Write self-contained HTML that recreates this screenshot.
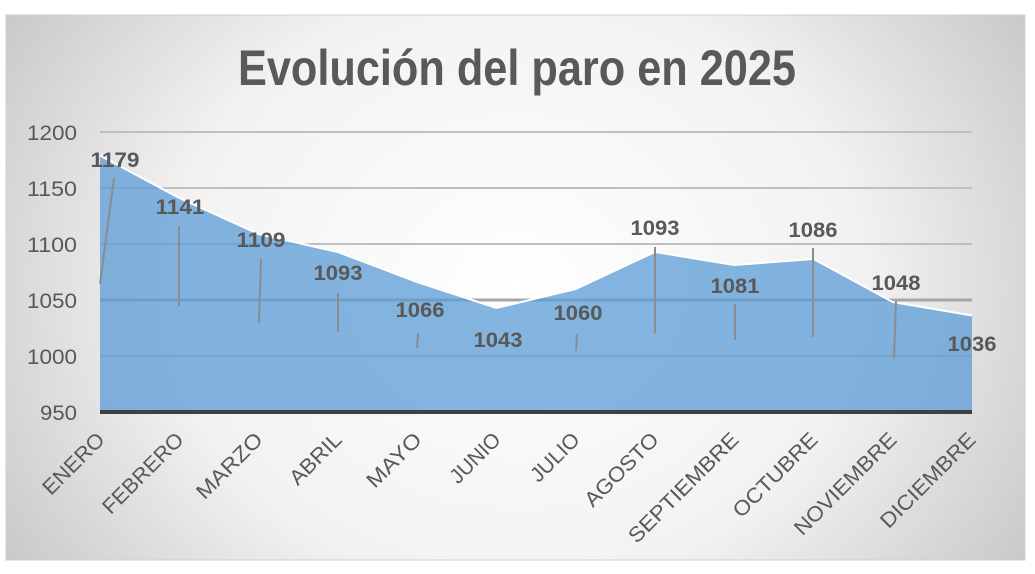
<!DOCTYPE html>
<html><head><meta charset="utf-8"><style>
html,body{margin:0;padding:0;background:#fff;width:1035px;height:574px;overflow:hidden}
svg{display:block}
</style></head><body>
<svg width="1035" height="574" viewBox="0 0 1035 574" xmlns="http://www.w3.org/2000/svg" font-family="'Liberation Sans', sans-serif">
<defs>
<radialGradient id="bg" cx="0.5" cy="0.5" r="0.62" gradientTransform="translate(0.5 0.5) scale(1 1.6) translate(-0.5 -0.5)">
<stop offset="0" stop-color="#ffffff"/>
<stop offset="0.55" stop-color="#f2f2f2"/>
<stop offset="1" stop-color="#c4c4c4"/>
</radialGradient>
</defs>
<rect x="0" y="0" width="1035" height="574" fill="#fff"/>
<rect x="6" y="15" width="1019" height="545" fill="url(#bg)" stroke="#d0d0d0" stroke-width="1"/>
<text x="517" y="85" text-anchor="middle" font-size="50" font-weight="bold" fill="#595959" textLength="558" lengthAdjust="spacingAndGlyphs">Evolución del paro en 2025</text>
<g stroke="#bfbfbf" stroke-width="2">
<line x1="100" y1="132" x2="972" y2="132"/>
<line x1="100" y1="188" x2="972" y2="188"/>
<line x1="100" y1="244" x2="972" y2="244"/>
<line x1="100" y1="300" x2="972" y2="300" stroke="#a6a6a6" stroke-width="3"/>
<line x1="100" y1="356" x2="972" y2="356"/>
</g>
<g font-size="21" fill="#595959" text-anchor="end">
<text x="77" y="140" textLength="50" lengthAdjust="spacingAndGlyphs">1200</text>
<text x="77" y="196" textLength="50" lengthAdjust="spacingAndGlyphs">1150</text>
<text x="77" y="252" textLength="50" lengthAdjust="spacingAndGlyphs">1100</text>
<text x="77" y="308" textLength="50" lengthAdjust="spacingAndGlyphs">1050</text>
<text x="77" y="364" textLength="50" lengthAdjust="spacingAndGlyphs">1000</text>
<text x="77" y="420" textLength="37" lengthAdjust="spacingAndGlyphs">950</text>
</g>
<polygon points="100,155.5 179.3,198 258.5,234 337.8,252 417.1,282 496.4,308 575.6,289 654.9,252 734.2,265 813.5,259 892.7,302 972,315.5 972,412 100,412" fill="#5b9bd5" fill-opacity="0.75"/>
<polyline points="100,155.5 179.3,198 258.5,234 337.8,252 417.1,282 496.4,308 575.6,289 654.9,252 734.2,265 813.5,259 892.7,302 972,315.5" fill="none" stroke="#ffffff" stroke-width="2"/>
<line x1="100" y1="412" x2="972" y2="412" stroke="#404040" stroke-width="4"/>
<g stroke="#8c8c8c" stroke-width="2">
<line x1="100" y1="284" x2="114" y2="178"/>
<line x1="179" y1="226" x2="179" y2="306"/>
<line x1="261" y1="259" x2="259" y2="323"/>
<line x1="338" y1="293" x2="338" y2="332"/>
<line x1="418" y1="333" x2="417" y2="348"/>
<line x1="577" y1="334" x2="576" y2="351"/>
<line x1="655" y1="247" x2="655" y2="333"/>
<line x1="735" y1="304" x2="735" y2="340"/>
<line x1="813" y1="248" x2="813" y2="337"/>
<line x1="896" y1="301" x2="894" y2="358"/>
</g>
<g font-size="21" font-weight="bold" fill="#595959" text-anchor="middle">
<text x="115" y="167" textLength="49" lengthAdjust="spacingAndGlyphs">1179</text>
<text x="180" y="214" textLength="49" lengthAdjust="spacingAndGlyphs">1141</text>
<text x="261" y="247" textLength="49" lengthAdjust="spacingAndGlyphs">1109</text>
<text x="338" y="280" textLength="49" lengthAdjust="spacingAndGlyphs">1093</text>
<text x="420" y="317" textLength="49" lengthAdjust="spacingAndGlyphs">1066</text>
<text x="498" y="347" textLength="49" lengthAdjust="spacingAndGlyphs">1043</text>
<text x="578" y="320" textLength="49" lengthAdjust="spacingAndGlyphs">1060</text>
<text x="655" y="235" textLength="49" lengthAdjust="spacingAndGlyphs">1093</text>
<text x="735" y="293" textLength="49" lengthAdjust="spacingAndGlyphs">1081</text>
<text x="813" y="237" textLength="49" lengthAdjust="spacingAndGlyphs">1086</text>
<text x="896" y="290" textLength="49" lengthAdjust="spacingAndGlyphs">1048</text>
<text x="972" y="351" textLength="49" lengthAdjust="spacingAndGlyphs">1036</text>
</g>
<g font-size="21" fill="#595959" text-anchor="end">
<text transform="translate(106,441) rotate(-45)" textLength="78" lengthAdjust="spacingAndGlyphs">ENERO</text>
<text transform="translate(185,441) rotate(-45)" textLength="105" lengthAdjust="spacingAndGlyphs">FEBRERO</text>
<text transform="translate(264,441) rotate(-45)" textLength="84" lengthAdjust="spacingAndGlyphs">MARZO</text>
<text transform="translate(343,441) rotate(-45)" textLength="64" lengthAdjust="spacingAndGlyphs">ABRIL</text>
<text transform="translate(423,441) rotate(-45)" textLength="68" lengthAdjust="spacingAndGlyphs">MAYO</text>
<text transform="translate(502,441) rotate(-45)" textLength="62" lengthAdjust="spacingAndGlyphs">JUNIO</text>
<text transform="translate(581,441) rotate(-45)" textLength="60" lengthAdjust="spacingAndGlyphs">JULIO</text>
<text transform="translate(660,441) rotate(-45)" textLength="95" lengthAdjust="spacingAndGlyphs">AGOSTO</text>
<text transform="translate(740,441) rotate(-45)" textLength="146" lengthAdjust="spacingAndGlyphs">SEPTIEMBRE</text>
<text transform="translate(819,441) rotate(-45)" textLength="110" lengthAdjust="spacingAndGlyphs">OCTUBRE</text>
<text transform="translate(898,441) rotate(-45)" textLength="135" lengthAdjust="spacingAndGlyphs">NOVIEMBRE</text>
<text transform="translate(977,441) rotate(-45)" textLength="125" lengthAdjust="spacingAndGlyphs">DICIEMBRE</text>
</g>
</svg>
</body></html>
